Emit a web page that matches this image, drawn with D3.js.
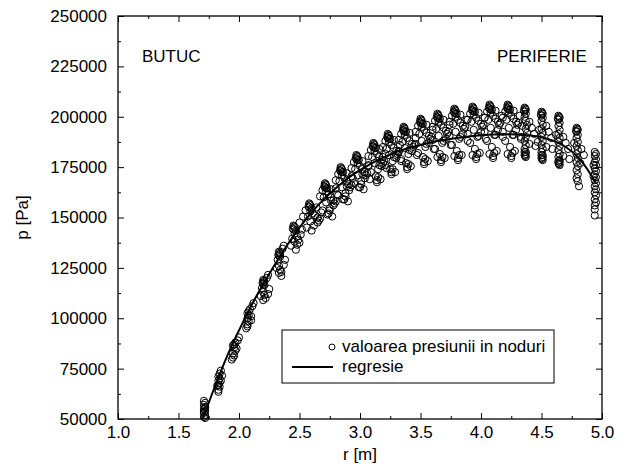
<!DOCTYPE html>
<meta charset="utf-8">
<head>
  <title>p [Pa] vs r [m]</title>
</head>
<style>
  body { margin: 0; background: #fff; }
  svg text { font-family: "Liberation Sans", Arial, sans-serif; font-size: 17px; fill: #000; }
</style>
<div id="chart"></div>
<script src="https://d3js.org/d3.v7.min.js"></script>
<script>

// regression curve
var regR = [1.70, 1.80, 1.90, 2.00, 2.10, 2.20, 2.30, 2.40, 2.50, 2.60, 2.70, 2.80, 2.90, 3.00, 3.10, 3.20, 3.30,
            3.40, 3.50, 3.60, 3.70, 3.80, 3.90, 4.00, 4.10, 4.20, 4.30, 4.40, 4.50, 4.60, 4.70, 4.80, 4.90, 4.95];
var regP = [50000, 66000, 81000, 94000, 106000, 117000, 127000, 136500, 145000, 152500, 159000, 164500, 169500,
            173500, 177000, 180000, 182500, 184500, 186000, 187500, 188500, 189500, 190200, 190800, 191200, 191300,
            191200, 190700, 189800, 188000, 185000, 180000, 172000, 167000];

// node pressures near the hub
var hubNodes = [
  [1.71,59000],[1.72,58000],[1.71,57000],[1.72,56000],[1.71,55000],[1.72,54000],[1.71,53000],[1.72,52000],[1.71,51000],[1.72,50500],[1.72,55500],[1.71,53500],
  [1.85,74000],[1.84,72500],[1.83,71000],[1.84,70000],[1.83,69000],[1.84,68000],[1.83,67000],[1.84,66000],[1.83,64500],[1.83,63500],[1.86,71500],[1.82,66500],[1.85,69000],
  [1.97,88000],[1.96,87000],[1.95,86500],[1.96,85500],[1.97,84000],[1.95,82500],[1.96,81500],[1.95,80500],[1.98,85000],[1.99,89000],[2.00,90500],[1.94,79500],
  [2.09,104500],[2.08,103500],[2.07,102500],[2.08,101500],[2.07,100000],[2.08,98500],[2.07,97000],[2.07,96000],[2.06,95000],[2.10,101000],[2.11,106000],[2.12,107500],[2.10,99000],
  [2.20,119000],[2.21,118000],[2.20,117000],[2.21,116500],[2.19,115000],[2.20,113000],[2.21,111500],[2.22,110000],[2.20,109000],[2.24,112000],[2.25,114500],[2.23,120000],[2.24,121500],[2.18,111000],
  [2.205,118500],[2.195,117500],
  [2.33,133000],[2.34,132000],[2.33,131000],[2.34,130500],[2.32,129000],[2.33,126000],[2.34,124000],[2.33,122500],[2.35,123000],[2.37,126500],[2.38,129000],[2.36,134500],[2.37,136000],[2.31,125000],[2.35,121000],
  [2.335,132500],[2.325,131500],
  [2.45,146000],[2.46,145000],[2.45,144000],[2.47,143500],[2.46,142000],[2.48,140500],[2.49,139000],[2.50,137500],[2.48,136500],[2.46,138000],[2.44,139500],[2.43,136000],[2.51,141500],[2.52,144000],[2.50,147500],[2.47,134000],
  [2.455,145500],[2.445,144500],
  [2.58,157000],[2.59,156000],[2.58,155000],[2.60,154500],[2.59,153000],[2.61,152000],[2.63,151000],[2.65,150000],[2.66,148500],[2.67,149500],[2.65,147500],[2.62,146000],[2.59,148000],[2.57,150500],[2.56,145000],[2.60,143500],[2.68,152500],[2.64,155000],
  [2.585,156500],[2.575,155500],[2.55,153500],[2.53,150500]
];

// node pressures mid span
var midNodes = [
  [2.71,167000],[2.72,166000],[2.71,165000],[2.73,164500],[2.72,163000],[2.74,161500],[2.76,160000],[2.78,158500],[2.79,157000],[2.80,158000],[2.78,156000],[2.75,154500],[2.72,157500],[2.70,160000],[2.69,153500],[2.73,151500],[2.77,150500],[2.81,161500],[2.76,164000],
  [2.715,166500],[2.705,165500],[2.72,164500],[2.69,163500],[2.67,160500],[2.74,152000],[2.75,153500],[2.76,158500],
  [2.84,175000],[2.85,174000],[2.84,173000],[2.86,172500],[2.85,171000],[2.87,169500],[2.89,168000],[2.91,166500],[2.92,165000],[2.93,166000],[2.91,163500],[2.88,162000],[2.85,165000],[2.83,168000],[2.82,161000],[2.86,159000],[2.90,158000],[2.94,169500],[2.89,172000],[2.80,164500],
  [2.845,174500],[2.835,173500],[2.85,172500],[2.82,171500],[2.80,168500],[2.87,159000],[2.88,160500],[2.89,165500],
  [2.97,181000],[2.98,180000],[2.97,179000],[2.99,178500],[2.98,177000],[3.00,175500],[3.02,174000],[3.04,172500],[3.05,171000],[3.06,172000],[3.04,169500],[3.01,168000],[2.98,171000],[2.96,174000],[2.95,167000],[2.99,165000],[3.03,164000],[3.07,175500],[3.02,178000],[2.93,170500],[3.08,169000],
  [2.975,180500],[2.965,179500],[2.98,178500],[2.95,177500],[2.93,174500],[3.00,165000],[3.01,166500],[3.02,171500],
  [3.11,187000],[3.12,186000],[3.11,185000],[3.13,184500],[3.12,183000],[3.14,181500],[3.16,180000],[3.18,178500],[3.19,177000],[3.20,178000],[3.18,175500],[3.15,174000],[3.12,177000],[3.10,180000],[3.09,172500],[3.13,170500],[3.17,169000],[3.21,181500],[3.16,184000],[3.07,176000],[3.22,174500],[3.14,167500],
  [3.115,186500],[3.105,185500],[3.12,184500],[3.09,183500],[3.07,180500],[3.14,168500],[3.15,170000],[3.16,176000],
  [3.23,191500],[3.24,190500],[3.23,189500],[3.25,189000],[3.24,187500],[3.26,186000],[3.28,184500],[3.30,183000],[3.31,181500],[3.32,182500],[3.30,179500],[3.27,178000],[3.24,181000],[3.22,184000],[3.21,176000],[3.25,174000],[3.29,172500],[3.33,186000],[3.28,188500],[3.19,180000],[3.34,178000],[3.26,171500],
  [3.235,191000],[3.225,190000],[3.24,189000],[3.21,188000],[3.19,185000],[3.26,172500],[3.27,174000],[3.28,180000],
  [3.36,195000],[3.37,194000],[3.36,193000],[3.38,192500],[3.37,191000],[3.39,189500],[3.41,188000],[3.43,186500],[3.44,185000],[3.45,186000],[3.43,183000],[3.40,181500],[3.37,184500],[3.35,187500],[3.34,179000],[3.38,177000],[3.42,175500],[3.46,189500],[3.41,192000],[3.32,183000],[3.47,181000],[3.39,174000],
  [3.365,194500],[3.355,193500],[3.37,192500],[3.34,191500],[3.32,188500],[3.39,175000],[3.40,176500],[3.41,183500],
  [3.50,199000],[3.51,198000],[3.50,197000],[3.52,196500],[3.51,195000],[3.53,193500],[3.55,192000],[3.57,190500],[3.58,189000],[3.59,190000],[3.57,187000],[3.54,185000],[3.51,188000],[3.49,191500],[3.48,182000],[3.52,180000],[3.56,178000],[3.60,193500],[3.55,196000],[3.46,186500],[3.61,184000],[3.53,176500],
  [3.505,198500],[3.495,197500],[3.51,196500],[3.48,195500],[3.46,192500],[3.53,177500],[3.54,179000],[3.55,186500],
  [3.64,201500],[3.65,200500],[3.64,199500],[3.66,199000],[3.65,197500],[3.67,196000],[3.69,194500],[3.71,193000],[3.72,191500],[3.73,192500],[3.71,189000],[3.68,187000],[3.65,190500],[3.63,194000],[3.62,184000],[3.66,181500],[3.70,179500],[3.74,196000],[3.69,198500],[3.60,188500],[3.75,186000],[3.67,177500],[3.64,180000],
  [3.645,201000],[3.635,200000],[3.65,199000],[3.62,198000],[3.60,195000],[3.67,178500],[3.68,180000],[3.69,188000],
  [3.78,204000],[3.79,203000],[3.78,202000],[3.80,201500],[3.79,200000],[3.81,198500],[3.83,197000],[3.85,195500],[3.86,194000],[3.87,195000],[3.85,191500],[3.82,189000],[3.79,192500],[3.77,196500],[3.76,186000],[3.80,183000],[3.84,181000],[3.88,198500],[3.83,201000],[3.74,190500],[3.89,188000],[3.81,178500],[3.78,180500],
  [3.785,203500],[3.775,202500],[3.79,201500],[3.76,200500],[3.74,197500],[3.81,179500],[3.82,181000],[3.83,190000],
  [3.93,205000],[3.94,204000],[3.93,203000],[3.95,202500],[3.94,201000],[3.96,199500],[3.98,198000],[4.00,196500],[4.01,195000],[4.02,196000],[4.00,192500],[3.97,190000],[3.94,193500],[3.92,197500],[3.91,187000],[3.95,184000],[3.99,182000],[4.03,199500],[3.98,202000],[3.89,191500],[4.04,189000],[3.96,179000],[3.93,181000],
  [3.935,204500],[3.925,203500],[3.94,202500],[3.91,201500],[3.89,198500],[3.96,180000],[3.97,181500],[3.98,190500],
  [4.07,206000],[4.08,205000],[4.07,204000],[4.09,203500],[4.08,202000],[4.10,200500],[4.12,199000],[4.14,197500],[4.15,196000],[4.16,197000],[4.14,193500],[4.11,191000],[4.08,194500],[4.06,198500],[4.05,188000],[4.09,185000],[4.13,183000],[4.17,200500],[4.12,203000],[4.03,192500],[4.18,190000],[4.10,179500],[4.07,181500],
  [4.075,205500],[4.065,204500],[4.08,203500],[4.05,202500],[4.03,199500],[4.10,180500],[4.11,182000],[4.12,191000],
  [4.22,206000],[4.23,205000],[4.22,204000],[4.24,203500],[4.23,202000],[4.25,200500],[4.27,199000],[4.29,197500],[4.30,196000],[4.31,197000],[4.29,193500],[4.26,191000],[4.23,194500],[4.21,198500],[4.20,188000],[4.24,185000],[4.28,183000],[4.32,200500],[4.27,203000],[4.18,192500],[4.33,190000],[4.25,179500],[4.22,181500],
  [4.225,205500],[4.215,204500],[4.23,203500],[4.20,202500],[4.18,199500],[4.25,180500],[4.26,182000],[4.27,191000]
];

// node pressures towards the tip
var tipNodes = [
  [4.36,204500],[4.37,203500],[4.36,202500],[4.37,201500],[4.36,200000],[4.37,198000],[4.38,196000],[4.37,194000],[4.38,192000],[4.37,190000],[4.36,188000],[4.37,186000],[4.36,184000],[4.37,182500],[4.36,181000],[4.37,180000],[4.40,197500],[4.42,194500],[4.44,191500],[4.34,195500],[4.40,186500],[4.45,185500],[4.33,189000],
  [4.365,204000],[4.355,203000],[4.37,181500],[4.365,180500],[4.36,182500],
  [4.50,202500],[4.51,201500],[4.50,200500],[4.51,199500],[4.50,198000],[4.51,196000],[4.50,194000],[4.51,192000],[4.50,190000],[4.51,188000],[4.50,186000],[4.51,184000],[4.50,182500],[4.51,181000],[4.50,179500],[4.51,178500],[4.54,195500],[4.56,192500],[4.58,189500],[4.48,193500],[4.54,185000],[4.59,184000],[4.47,187500],
  [4.505,202000],[4.495,201000],[4.51,180000],[4.505,179000],[4.50,181000],
  [4.64,200500],[4.65,199500],[4.64,198500],[4.65,197000],[4.64,195500],[4.65,193500],[4.64,191500],[4.65,189500],[4.64,187500],[4.65,185500],[4.64,183500],[4.65,181500],[4.64,180000],[4.65,178500],[4.64,177000],[4.65,176000],[4.68,190000],[4.70,187000],[4.72,184000],[4.62,191000],[4.68,180500],[4.73,179000],
  [4.645,200000],[4.635,199000],[4.65,177500],[4.645,176500],[4.64,178000],
  [4.79,194500],[4.80,193500],[4.79,192500],[4.80,191000],[4.79,189500],[4.80,187500],[4.79,185500],[4.80,183500],[4.79,181500],[4.80,179500],[4.79,177500],[4.80,175500],[4.79,173500],[4.80,171500],[4.79,169500],[4.80,168000],[4.81,165500],[4.83,184000],[4.85,181000],[4.77,187000],[4.82,177000],
  [4.795,194000],[4.785,193000],
  [4.94,182500],[4.95,181500],[4.94,180500],[4.95,179000],[4.94,177500],[4.95,176000],[4.94,174500],[4.95,173000],[4.94,171500],[4.95,170000],[4.94,168500],[4.95,167000],[4.94,165500],[4.95,164000],[4.94,162500],[4.95,161000],[4.94,159000],[4.95,157500],[4.94,156000],[4.94,154000],[4.94,151000],[4.93,176000],[4.93,170500]
];

var xMajor = [1.0, 1.5, 2.0, 2.5, 3.0, 3.5, 4.0, 4.5, 5.0];
var xMinor = [1.25, 1.75, 2.25, 2.75, 3.25, 3.75, 4.25, 4.75];
var yMajor = [50000, 75000, 100000, 125000, 150000, 175000, 200000, 225000, 250000];
var yMinor = [62500, 87500, 112500, 137500, 162500, 187500, 212500, 237500];

var margin = {top: 16, right: 21, bottom: 49, left: 118},
    width = 623 - margin.left - margin.right,
    height = 468 - margin.top - margin.bottom;

var svg = d3.select("#chart")
  .append("svg")
    .attr("width", 623)
    .attr("height", 468)
  .append("g")
    .attr("transform", "translate(" + margin.left + "," + margin.top + ")");

var x = d3.scaleLinear().domain([1, 5]).range([0, width]);
var y = d3.scaleLinear().domain([50000, 250000]).range([height, 0]);

// data
var nodes = hubNodes.concat(midNodes, tipNodes);
svg.append("g")
  .selectAll("circle")
  .data(nodes)
  .enter().append("circle")
    .attr("cx", function(d) { return x(d[0]); })
    .attr("cy", function(d) { return y(d[1]); })
    .attr("r", 3.6)
    .attr("fill", "none")
    .attr("stroke", "#000")
    .attr("stroke-width", 1);

svg.append("path")
  .datum(d3.zip(regR, regP))
  .attr("fill", "none")
  .attr("stroke", "#000")
  .attr("stroke-width", 2)
  .attr("d", d3.line()
    .curve(d3.curveMonotoneX)
    .x(function(d) { return x(d[0]); })
    .y(function(d) { return y(d[1]); }));

// axes, ticks pointing inward on all four sides
function styleAxis(g) {
  g.select(".domain").remove();
  g.selectAll("line").attr("stroke", "#000");
  g.selectAll("text").attr("font-size", null).attr("font-family", null);
}

svg.append("g")
  .attr("transform", "translate(0," + height + ")")
  .call(d3.axisBottom(x).tickValues(xMajor).tickSize(-6).tickPadding(7).tickFormat(d3.format(".1f")))
  .call(styleAxis);
svg.append("g")
  .attr("transform", "translate(0," + height + ")")
  .call(d3.axisBottom(x).tickValues(xMinor).tickSize(-3).tickFormat(""))
  .call(styleAxis);
svg.append("g")
  .call(d3.axisTop(x).tickValues(xMajor).tickSize(-6).tickFormat(""))
  .call(styleAxis);
svg.append("g")
  .call(d3.axisTop(x).tickValues(xMinor).tickSize(-3).tickFormat(""))
  .call(styleAxis);

svg.append("g")
  .call(d3.axisLeft(y).tickValues(yMajor).tickSize(-6).tickPadding(11).tickFormat(d3.format("d")))
  .call(styleAxis);
svg.append("g")
  .call(d3.axisLeft(y).tickValues(yMinor).tickSize(-3).tickFormat(""))
  .call(styleAxis);
svg.append("g")
  .attr("transform", "translate(" + width + ",0)")
  .call(d3.axisRight(y).tickValues(yMajor).tickSize(-6).tickFormat(""))
  .call(styleAxis);
svg.append("g")
  .attr("transform", "translate(" + width + ",0)")
  .call(d3.axisRight(y).tickValues(yMinor).tickSize(-3).tickFormat(""))
  .call(styleAxis);

svg.append("rect")
  .attr("width", width)
  .attr("height", height)
  .attr("fill", "none")
  .attr("stroke", "#000")
  .attr("stroke-width", 1.3);

// axis titles
svg.append("text")
  .attr("x", x(3))
  .attr("y", height + 41)
  .attr("text-anchor", "middle")
  .text("r [m]");

svg.append("text")
  .attr("transform", "translate(" + (-90) + "," + (height / 2) + ") rotate(-90)")
  .attr("text-anchor", "middle")
  .text("p [Pa]");

// region labels
svg.append("text").attr("x", 24).attr("y", 46).text("BUTUC");
svg.append("text").attr("x", 379).attr("y", 46).text("PERIFERIE");

// legend
var legend = svg.append("g").attr("transform", "translate(164,314)");
legend.append("rect")
  .attr("width", 272).attr("height", 53)
  .attr("fill", "#fff").attr("stroke", "#000").attr("stroke-width", 1);
legend.append("circle")
  .attr("cx", 50).attr("cy", 17).attr("r", 3)
  .attr("fill", "none").attr("stroke", "#000");
legend.append("text").attr("x", 60).attr("y", 22).text("valoarea presiunii in noduri");
legend.append("line")
  .attr("x1", 10).attr("x2", 51).attr("y1", 37).attr("y2", 37)
  .attr("stroke", "#000").attr("stroke-width", 2);
legend.append("text").attr("x", 60).attr("y", 42).text("regresie");

</script>
